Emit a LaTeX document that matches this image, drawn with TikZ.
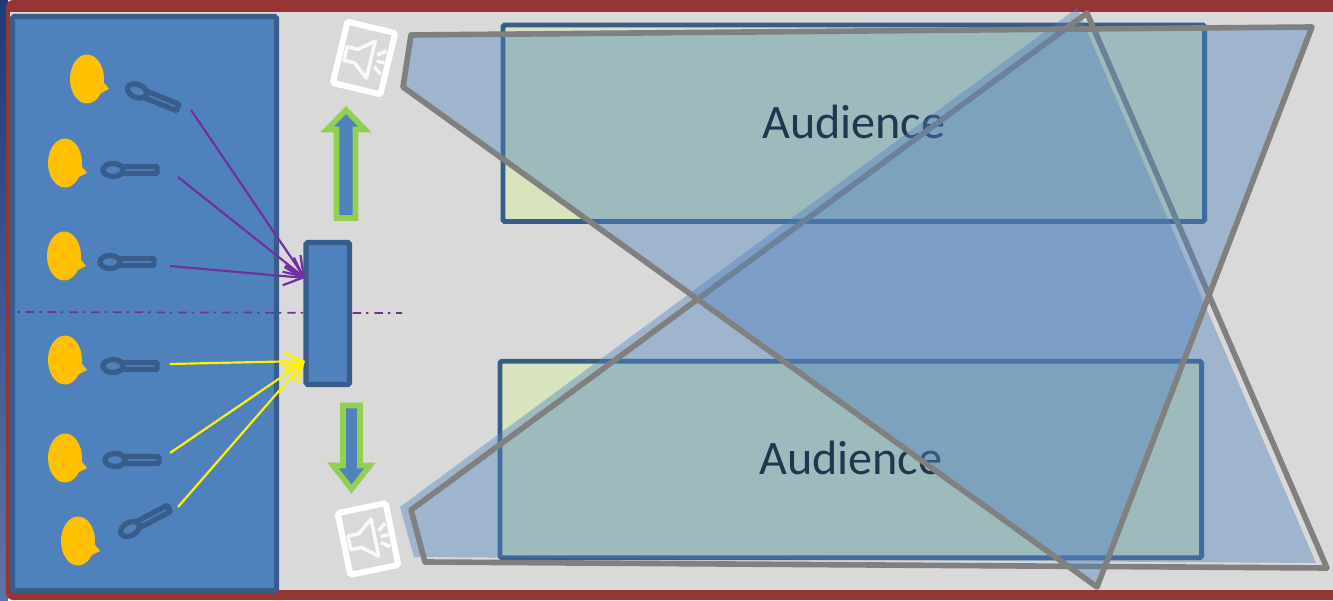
\documentclass[tikz,border=0pt]{standalone}
\definecolor{panelblue}{RGB}{79, 129, 189}
\definecolor{edgeblue}{RGB}{56, 93, 138}
\definecolor{framered}{RGB}{148, 54, 52}
\definecolor{stagegray}{RGB}{217, 217, 217}
\definecolor{headyellow}{RGB}{255, 192, 0}
\definecolor{arrowgreen}{RGB}{146, 208, 80}
\definecolor{signalpurple}{RGB}{112, 48, 160}
\definecolor{seatgreen}{RGB}{215, 228, 189}
\definecolor{stripdark}{RGB}{31, 58, 120}
\definecolor{striplight}{RGB}{98, 114, 168}
\usepackage{fontspec}
\setmainfont{Carlito}
\usepackage{tikz}
\usetikzlibrary{arrows.meta, positioning}
\tikzset{
  blockbox/.style={draw=edgeblue, fill=panelblue, line width=1.5pt, rounded corners=0.5pt, inner sep=0pt},
  audiencebox/.style={draw=edgeblue, fill=seatgreen, line width=1.42pt, rounded corners=0.5pt, inner sep=0pt,
    minimum width=7.015cm, minimum height=1.965cm, font=\fontsize{13.7pt}{16pt}\selectfont},
  speakerbox/.style={draw=white, line width=1.7pt, rounded corners=0.5pt, inner sep=0pt,
    minimum width=0.49cm, minimum height=0.63cm},
  bluearrow/.style={draw=arrowgreen, fill=panelblue, line width=1.6pt, miter limit=10},
  beamfill/.style={fill=panelblue, fill opacity=0.42},
  beamline/.style={draw=gray, line width=1.6pt, line join=round},
  signalline/.style={line width=0.62pt, -{Straight Barb[length=5.4pt, width=5.2pt]}},
  singer/.pic={
    \fill[headyellow] (0,0) ellipse (0.17 and 0.245);
    \fill[headyellow] (0.165,-0.03) -- (0.22,-0.10) -- (0.14,-0.14) -- cycle;
  },
  mic/.pic={
    \draw[edgeblue, line width=1.5pt] (0,0) ellipse (0.10 and 0.065);
    \draw[edgeblue, line width=1.5pt, rounded corners=0.3pt] (0.10,-0.035) rectangle (0.44,0.035);
  },
  horn/.pic={
    \draw[white!85!stagegray, line width=1pt, line join=round]
      (-0.19,-0.07) -- (-0.19,0.07) -- (-0.08,0.07) -- (0.07,0.19) -- (0.07,-0.19) -- (-0.08,-0.07) -- cycle;
    \draw[white!85!stagegray, line width=1pt] (0.12,0.06) -- (0.20,0.12);
    \draw[white!85!stagegray, line width=1pt] (0.13,0) -- (0.21,0);
    \draw[white!85!stagegray, line width=1pt] (0.12,-0.06) -- (0.20,-0.12);
  }
}

\begin{document}
\begin{tikzpicture}
  \useasboundingbox (0,0) rectangle (13.33,6);

  % Frame
  \shade[top color=stripdark, bottom color=striplight] (0,0) rectangle (0.08,6);
  \fill[framered] (13.33,0) [rounded corners=2pt] -- (0.06,0) -- (0.06,6) [sharp corners] -- (13.33,6) -- cycle;
  \fill[stagegray] (0.10,0.10) rectangle (13.33,5.88);

  % Stage
  \node[blockbox, minimum width=2.64cm, minimum height=5.74cm] (stage) at (1.445,2.965) {};

  % Singers
  \pic at (0.87,5.21) {singer};
  \pic at (0.65,4.37) {singer};
  \pic at (0.64,3.44) {singer};
  \pic at (0.65,2.40) {singer};
  \pic at (0.65,1.42) {singer};
  \pic at (0.78,0.59) {singer};

  % Microphones
  \pic[rotate=-22] at (1.37,5.09) {mic};
  \pic at (1.13,4.30) {mic};
  \pic at (1.10,3.38) {mic};
  \pic at (1.13,2.34) {mic};
  \pic at (1.15,1.40) {mic};
  \pic[rotate=28] at (1.30,0.71) {mic};

  % Split line
  \coordinate (splitL) at (0.04,2.88);
  \coordinate (splitR) at (4.02,2.87);
  \draw[signalpurple, line width=0.5pt, dash pattern=on 2.4pt off 1.4pt on 0.7pt off 1.7pt] (splitL) -- (splitR);

  % Mixer
  \node[blockbox, minimum width=0.435cm, minimum height=1.42cm] (mixer) at (3.278,2.865) {};

  % Upper signals
  \coordinate (mixTop) at (3.05,3.22);
  \coordinate (sigA) at (1.91,4.90);
  \coordinate (sigB) at (1.78,4.23);
  \coordinate (sigC) at (1.70,3.34);
  \draw[signalline, signalpurple] (sigA) -- (mixTop);
  \draw[signalline, signalpurple] (sigB) -- (mixTop);
  \draw[signalline, signalpurple] (sigC) -- (mixTop);

  % Lower signals
  \coordinate (mixLow) at (3.05,2.39);
  \coordinate (sigD) at (1.70,2.36);
  \coordinate (sigE) at (1.70,1.47);
  \coordinate (sigF) at (1.78,0.93);
  \draw[signalline, yellow] (sigD) -- (mixLow);
  \draw[signalline, yellow] (sigE) -- (mixLow);
  \draw[signalline, yellow] (sigF) -- (mixLow);

  % Feeds to speakers
  \draw[bluearrow] (3.365,3.82) -- (3.555,3.82) -- (3.555,4.705) -- (3.65,4.705) -- (3.46,4.90)
    -- (3.27,4.705) -- (3.365,4.705) -- cycle;
  \draw[bluearrow] (3.43,1.945) -- (3.60,1.945) -- (3.60,1.345) -- (3.70,1.345) -- (3.515,1.11)
    -- (3.33,1.345) -- (3.43,1.345) -- cycle;

  % Audience
  \node[audiencebox] (audTop) at (8.5375,4.7675) {\raisebox{0.9pt}{Audience}};
  \node[audiencebox] (audLow) at (8.5075,1.405) {\raisebox{0.9pt}{Audience}};

  % Lower beam
  \fill[beamfill] (4.00,0.93) -- (10.77,5.92) -- (13.16,0.37) -- (4.14,0.43) -- cycle;
  \draw[beamline] (4.11,0.90) -- (10.87,5.87) -- (13.27,0.32) -- (4.25,0.38) -- cycle;

  % Upper beam
  \fill[beamfill] (4.11,5.65) -- (13.12,5.73) -- (10.97,0.13) -- (4.03,5.13) -- cycle;
  \draw[beamline] (4.11,5.65) -- (13.12,5.73) -- (10.97,0.13) -- (4.03,5.13) -- cycle;

  % Speakers
  \node[speakerbox, rotate=-13.5] (spkTop) at (3.64,5.42) {};
  \pic[rotate=-13.5] at (spkTop) {horn};
  \node[speakerbox, rotate=11.7] (spkLow) at (3.68,0.61) {};
  \pic[rotate=11.7] at (spkLow) {horn};
\end{tikzpicture}
\end{document}
